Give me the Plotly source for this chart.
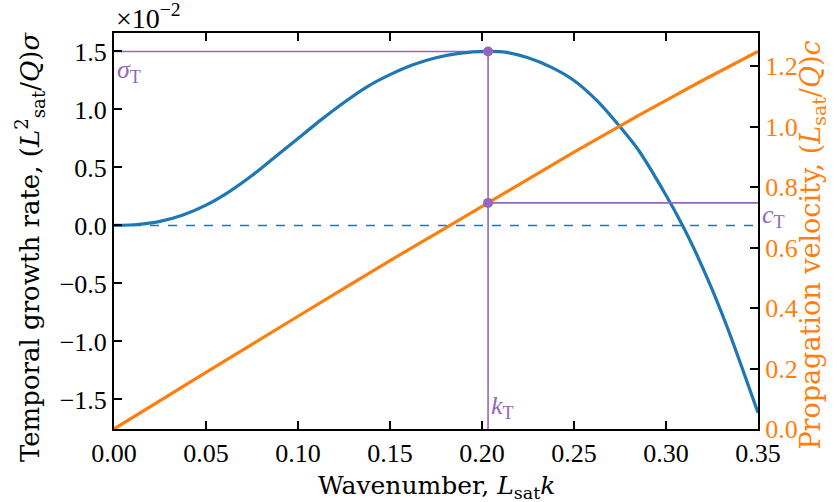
import plotly.graph_objects as go

# ---- data ----
k_sigma = [0, 0.0125, 0.025, 0.0375, 0.05, 0.0625, 0.075, 0.0875, 0.1, 0.1125, 0.125,
           0.1375, 0.15, 0.1625, 0.175, 0.1875, 0.2033, 0.2125, 0.225, 0.2375, 0.25,
           0.2625, 0.275, 0.285, 0.3, 0.309, 0.3155, 0.325, 0.335, 0.35]
sigma = [0, 0.008, 0.035, 0.09, 0.175, 0.29, 0.43, 0.59, 0.75, 0.91, 1.06,
         1.195, 1.30, 1.385, 1.445, 1.483, 1.50, 1.494, 1.445, 1.365, 1.25,
         1.075, 0.85, 0.65, 0.26, 0.0, -0.21, -0.55, -0.95, -1.615]

k_vel = [0, 0.05, 0.1, 0.15, 0.2033, 0.25, 0.2856, 0.318, 0.35]
velocity = [0, 0.187, 0.373, 0.557, 0.748, 0.916, 1.039, 1.147, 1.249]

k_T = 0.2033
sigma_T = 1.50
c_T = 0.748

x_ticks = [0, 0.05, 0.10, 0.15, 0.20, 0.25, 0.30, 0.35]
y_ticks = [-1.5, -1.0, -0.5, 0.0, 0.5, 1.0, 1.5]
y2_ticks = [0.0, 0.2, 0.4, 0.6, 0.8, 1.0, 1.2]

x_range = [0, 0.35]
y_range = [-1.755, 1.659]
y2_range = [0, 1.31]

BLUE = "#1f77b4"
ORANGE = "#ff7f0e"
PURPLE = "#9467bd"
TICKFONT = "Liberation Serif"
TITLEFONT = "DejaVu Serif"
FS = 26
TFS = 25

fig = go.Figure()

fig.add_trace(go.Scatter(x=x_range, y=[0, 0], mode="lines",
                         line=dict(color=BLUE, width=1.6, dash="dash"),
                         showlegend=False, hoverinfo="skip"))
fig.add_trace(go.Scatter(x=[0, k_T], y=[sigma_T, sigma_T], mode="lines",
                         line=dict(color=PURPLE, width=1.6), showlegend=False))
fig.add_trace(go.Scatter(x=[k_T, k_T], y=[sigma_T, y_range[0]], mode="lines",
                         line=dict(color=PURPLE, width=1.6), showlegend=False))
fig.add_trace(go.Scatter(x=k_sigma, y=sigma, mode="lines",
                         line=dict(color=BLUE, width=3.2, shape="spline", smoothing=0.6),
                         showlegend=False))
fig.add_trace(go.Scatter(x=[k_T], y=[sigma_T], mode="markers",
                         marker=dict(color=PURPLE, size=10), showlegend=False))

fig.add_trace(go.Scatter(x=k_vel, y=velocity, mode="lines", yaxis="y2",
                         line=dict(color=ORANGE, width=3.2, shape="spline", smoothing=0.4),
                         showlegend=False))
fig.add_trace(go.Scatter(x=[k_T, x_range[1]], y=[c_T, c_T], mode="lines", yaxis="y2",
                         line=dict(color=PURPLE, width=1.6), showlegend=False))
fig.add_trace(go.Scatter(x=[k_T], y=[c_T], mode="markers", yaxis="y2",
                         marker=dict(color=PURPLE, size=10), showlegend=False))

axis_common = dict(showgrid=False, zeroline=False, showline=True, linecolor="black",
                   linewidth=2, ticks="inside", ticklen=8, tickwidth=1.5,
                   tickcolor="black", automargin=False)

fig.update_layout(
    width=837, height=502,
    margin=dict(l=114, r=79, t=33, b=73),
    plot_bgcolor="white", paper_bgcolor="white",
    font=dict(family=TICKFONT, size=FS, color="black"),
    xaxis=dict(range=x_range, tickvals=x_ticks, tickformat=".2f", mirror="ticks",
               **axis_common),
    yaxis=dict(range=y_range, tickvals=y_ticks, tickformat=".1f", **axis_common),
    yaxis2=dict(range=y2_range, tickvals=y2_ticks, tickformat=".1f", overlaying="y",
                side="right", tickfont=dict(color=ORANGE), **axis_common),
    annotations=[
        dict(text="Wavenumber, <i>L</i><sub>sat</sub><i>k</i>", xref="paper", yref="paper",
             x=0.5, y=-0.146, xanchor="center", yanchor="middle", showarrow=False,
             font=dict(family=TITLEFONT, size=TFS)),
        dict(text="Temporal growth rate, (<i>L</i><sup>2</sup><sub>sat</sub>/<i>Q</i>)<i>σ</i>",
             xref="paper", yref="paper", x=-0.13, y=0.46, xanchor="center", yanchor="middle",
             textangle=-90, showarrow=False, font=dict(family=TITLEFONT, size=26)),
        dict(text="Propagation velocity, (<i>L</i><sub>sat</sub>/<i>Q</i>)<i>c</i>",
             xref="paper", yref="paper", x=1.085, y=0.465, xanchor="center", yanchor="middle",
             textangle=-90, showarrow=False,
             font=dict(family=TITLEFONT, size=27, color=ORANGE)),
        dict(text="×10<sup>−2</sup>", xref="paper", yref="paper", x=0, y=1,
             xanchor="left", yanchor="bottom", yshift=-3, showarrow=False,
             font=dict(size=28)),
        dict(text="<i>σ</i><sub>T</sub>", xref="x", yref="y", x=0, y=sigma_T,
             xanchor="left", yanchor="top", xshift=1, yshift=-2, showarrow=False,
             font=dict(size=FS, color=PURPLE)),
        dict(text="<i>c</i><sub>T</sub>", xref="paper", yref="y2", x=1, y=c_T,
             xanchor="left", yanchor="top", xshift=2, yshift=5, showarrow=False,
             font=dict(size=FS, color=PURPLE)),
        dict(text="<i>k</i><sub>T</sub>", xref="x", yref="paper", x=k_T, y=0,
             xanchor="left", yanchor="bottom", xshift=1, yshift=4, showarrow=False,
             font=dict(size=FS, color=PURPLE)),
    ],
)

fig.write_html("out.html", config={"displayModeBar": False},
               post_script="document.body.style.margin='0px';")
